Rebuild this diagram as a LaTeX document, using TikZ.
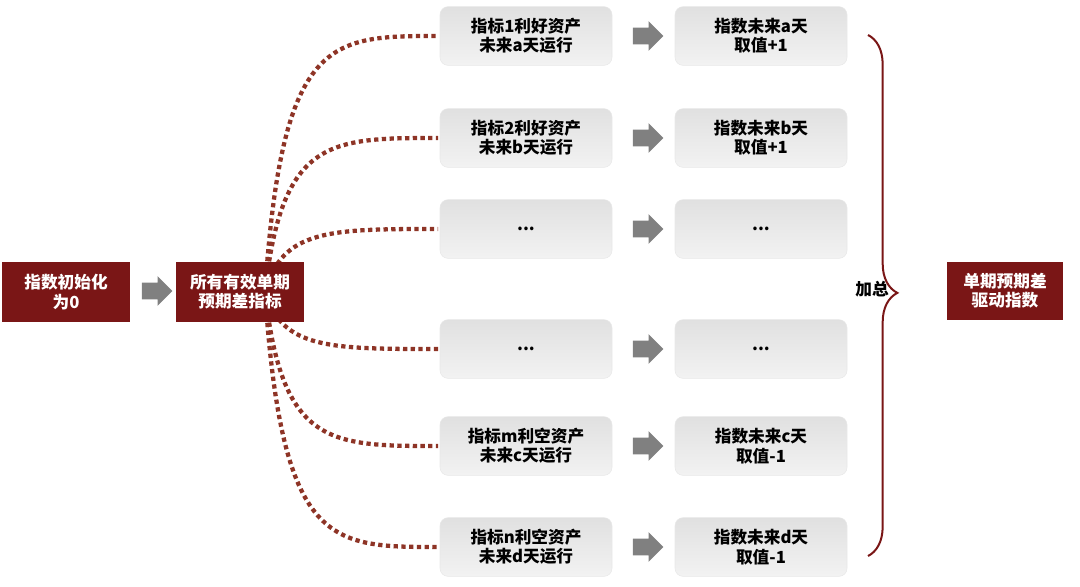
\documentclass[tikz,border=0pt]{standalone}
\usepackage{fontspec}
\setmainfont{Noto Sans CJK SC}[BoldFont={* Black}]
\usetikzlibrary{shapes.arrows,decorations.pathreplacing}
\definecolor{dred}{HTML}{7A1616}
\definecolor{dotc}{HTML}{8E3426}
\tikzset{
 redbox/.style={fill=dred,text=white,font=\bfseries\fontsize{12.5}{14.5}\selectfont,align=center,minimum width=96pt,minimum height=45pt,inner sep=0pt},
 graybox/.style={rounded corners=6pt,top color=gray!24,bottom color=gray!10,draw=gray!18,font=\bfseries\fontsize{12.5}{14.5}\selectfont,align=center,minimum width=129pt,minimum height=44pt,inner sep=0pt},
 garrow/.style={single arrow,fill=gray,minimum height=23pt,inner xsep=0pt,inner ysep=6pt,single arrow head extend=5pt,single arrow head indent=0pt},
 dotline/.style={draw=dotc,line width=3.2pt,dash pattern=on 3.2pt off 2.6pt}
}
\begin{document}
\begin{tikzpicture}[x=0.75pt,y=-0.75pt]
\useasboundingbox (0,0) rectangle (1080,586);
\coordinate (src) at (265,292);
\foreach \n/\y in {r1/36,r2/138,r3/229,r4/349,r5/446,r6/547}{
  \coordinate (e\n) at (438,\y);
  \draw[dotline] (src) .. controls (282,\y) and (330,\y) .. (e\n);
}
\node[redbox,minimum width=96pt] (init) at (66,292) {指数初始化\\为0};
\node[garrow] (a0) at (153,291) {};
\node[redbox] (all) at (240,292) {所有有效单期\\预期差指标};
\foreach \n/\y/\a/\b in {r1/36/{指标1利好资产\\未来a天运行}/{指数未来a天\\取值+1},
  r2/138/{指标2利好资产\\未来b天运行}/{指数未来b天\\取值+1},
  r3/229/{...}/{...},
  r4/349/{...}/{...},
  r5/446/{指标m利空资产\\未来c天运行}/{指数未来c天\\取值-1},
  r6/547/{指标n利空资产\\未来d天运行}/{指数未来d天\\取值-1}}{
  \node[graybox] (L\n) at (526,\y) {\a};
  \node[garrow] (A\n) at (644,\y) {};
  \node[graybox] (R\n) at (761,\y) {\b};
}
\coordinate (bt) at (868,35);
\coordinate (bb) at (868,556);
\draw[dred,line width=1.5pt,decorate,decoration={brace,amplitude=22pt,aspect=0.495}] (bt) -- (bb);
\node[font=\bfseries\fontsize{12.5}{14.5}\selectfont] (sum) at (872,289) {加总};
\node[redbox,minimum width=87pt,minimum height=44pt] (out) at (1005,291) {单期预期差\\驱动指数};
\end{tikzpicture}
\end{document}
